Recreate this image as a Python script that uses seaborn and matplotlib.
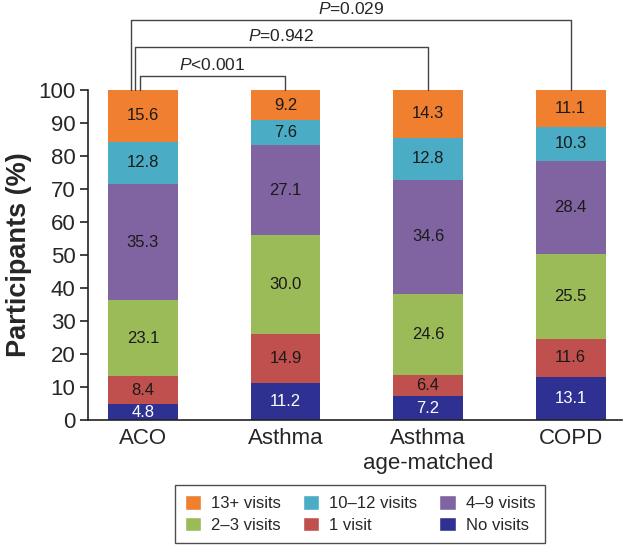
import matplotlib
matplotlib.use("Agg")
import matplotlib.pyplot as plt
import seaborn as sns
import numpy as np
from matplotlib.patches import Patch

groups = ["ACO", "Asthma", "Asthma\nage-matched", "COPD"]
series_names = ["No visits", "1 visit", "2\u20133 visits", "4\u20139 visits", "10\u201312 visits", "13+ visits"]
no_visits = [4.8, 11.2, 7.2, 13.1]
one_visit = [8.4, 14.9, 6.4, 11.6]
two_three = [23.1, 30.0, 24.6, 25.5]
four_nine = [35.3, 27.1, 34.6, 28.4]
ten_twelve = [12.8, 7.6, 12.8, 10.3]
thirteen_plus = [15.6, 9.2, 14.3, 11.1]
colors = ["#2E3192", "#C0504D", "#9BBB59", "#8064A2", "#4BACC6", "#F07F2F"]
text_colors = ["white", "#1a1a1a", "#1a1a1a", "#1a1a1a", "#1a1a1a", "#1a1a1a"]
p_labels = ["<0.001", "=0.942", "=0.029"]

series = [no_visits, one_visit, two_three, four_nine, ten_twelve, thirteen_plus]

sns.set_style("white")
plt.rcParams['font.family'] = ['Liberation Sans', 'DejaVu Sans']
plt.rcParams['mathtext.fontset'] = 'custom'
plt.rcParams['mathtext.it'] = 'Liberation Sans:italic'

fig = plt.figure(figsize=(6.41, 5.46), dpi=100)
ax = fig.add_axes([88/641, 126/546, (622-88)/641, 420/546])

bottom = np.zeros(len(groups))
for vals, col, tcol in zip(series, colors, text_colors):
    sns.barplot(x=groups, y=vals, bottom=bottom, color=col, width=0.49,
                ax=ax, saturation=1, linewidth=0)
    for i, v in enumerate(vals):
        ax.text(i, bottom[i] + v / 2, f"{v:.1f}", ha="center", va="center",
                fontsize=12, color=tcol)
    bottom = bottom + np.array(vals)

ax.set_xlim(-0.385, 3.36)
ax.set_ylim(0, 127.3)
ax.set_yticks(np.arange(0, 101, 10))
ax.tick_params(axis="y", labelsize=16, length=6, width=1.2, direction="out", left=True,
               color="#222222", pad=3)
ax.tick_params(axis="x", labelsize=16, length=0, pad=6)
for s in ["top", "right"]:
    ax.spines[s].set_visible(False)
ax.spines["left"].set_bounds(0, 100)
for s in ["left", "bottom"]:
    ax.spines[s].set_linewidth(1.2)
    ax.spines[s].set_color("#222222")
ax.set_ylabel("Participants (%)", fontsize=19.5, fontweight="bold")
ax.yaxis.set_label_coords(-0.105, 100 / 127.3 / 2)

# significance brackets
br_y = [104.2, 113.0, 121.2]
br_left = [-0.021, -0.056, -0.084]
br_right = [1, 2, 3]
for yv, xl, xr, lab in zip(br_y, br_left, br_right, p_labels):
    ax.plot([xl, xl, xr, xr], [100, yv, yv, 100], color="#444444", lw=1.0, clip_on=False)
    ax.text((xl + xr) / 2, yv + 2.0, r"$\it{P}$" + lab, ha="center", va="baseline",
            fontsize=12.5)

handles = [Patch(facecolor=colors[i], label=series_names[i]) for i in [5, 2, 4, 1, 3, 0]]
leg = fig.legend(handles=handles, loc="center", bbox_to_anchor=(360/641, 1 - 514/546),
                 ncol=3, frameon=True, fontsize=12, handlelength=1.0, handleheight=1.0,
                 columnspacing=1.3, handletextpad=0.6, labelspacing=0.3, borderpad=0.6,
                 fancybox=False, edgecolor="#222222")
leg.get_frame().set_linewidth(1.0)

fig.savefig("out.png", dpi=100)
